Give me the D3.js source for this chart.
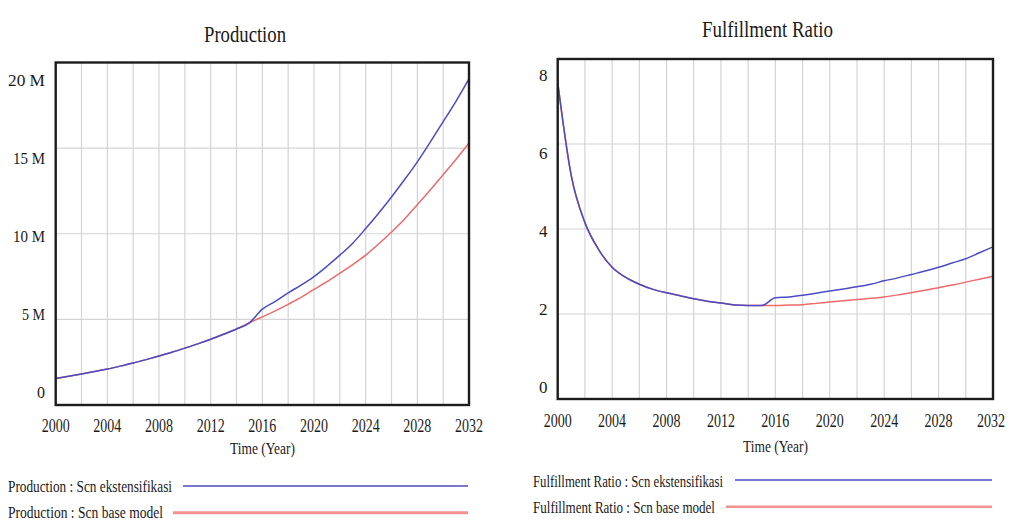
<!DOCTYPE html>
<html>
<head>
<meta charset="utf-8">
<script src="https://cdn.jsdelivr.net/npm/d3@7"></script>
<style>
  html, body { margin: 0; padding: 0; background: #fff; }
  svg { display: block; }
  text { font-family: "Liberation Serif", "Times New Roman", serif; fill: #1a1a1a; }
</style>
</head>
<body>
<svg id="chart" width="1012" height="525"></svg>
<script>
// Simulation years (annual output)
const years = [2000, 2001, 2002, 2003, 2004, 2005, 2006, 2007, 2008, 2009, 2010,
               2011, 2012, 2013, 2014, 2015, 2016, 2017, 2018, 2019, 2020, 2021,
               2022, 2023, 2024, 2025, 2026, 2027, 2028, 2029, 2030, 2031, 2032];

// Production (tons), scenario "ekstensifikasi"
const productionExt = [1.55e6, 1.68e6, 1.81e6, 1.95e6, 2.10e6, 2.27e6, 2.45e6, 2.65e6, 2.86e6, 3.08e6, 3.32e6,
                       3.57e6, 3.84e6, 4.13e6, 4.44e6, 4.80e6, 5.60e6, 6.05e6, 6.55e6, 7.00e6, 7.50e6, 8.10e6,
                       8.75e6, 9.45e6, 10.30e6, 11.20e6, 12.15e6, 13.15e6, 14.20e6, 15.35e6, 16.55e6, 17.75e6, 19.05e6];
// Production (tons), scenario "base model"
const productionBase = [1.55e6, 1.68e6, 1.81e6, 1.95e6, 2.10e6, 2.27e6, 2.45e6, 2.65e6, 2.86e6, 3.08e6, 3.32e6,
                        3.57e6, 3.84e6, 4.13e6, 4.44e6, 4.80e6, 5.15e6, 5.50e6, 5.88e6, 6.28e6, 6.75e6, 7.20e6,
                        7.70e6, 8.20e6, 8.75e6, 9.40e6, 10.10e6, 10.85e6, 11.70e6, 12.55e6, 13.45e6, 14.35e6, 15.30e6];

// Fulfillment ratio, scenario "ekstensifikasi"
const ratioExt = [7.45, 5.25, 4.15, 3.52, 3.10, 2.86, 2.70, 2.58, 2.50, 2.43, 2.36,
                  2.30, 2.26, 2.21, 2.20, 2.20, 2.38, 2.40, 2.44, 2.49, 2.54, 2.59,
                  2.64, 2.70, 2.78, 2.85, 2.93, 3.01, 3.10, 3.20, 3.30, 3.44, 3.58];
// Fulfillment ratio, scenario "base model"
const ratioBase = [7.45, 5.25, 4.15, 3.52, 3.10, 2.86, 2.70, 2.58, 2.50, 2.43, 2.36,
                   2.30, 2.26, 2.21, 2.20, 2.20, 2.20, 2.21, 2.22, 2.25, 2.28, 2.31,
                   2.34, 2.37, 2.40, 2.45, 2.50, 2.56, 2.62, 2.68, 2.75, 2.82, 2.89];

// Axis ticks and labels
const yearTicks = [2000, 2004, 2008, 2012, 2016, 2020, 2024, 2028, 2032];
const yearGrid = [2002, 2004, 2006, 2008, 2010, 2012, 2014, 2016, 2018, 2020, 2022, 2024, 2026, 2028, 2030];
const productionTicks = [0, 5e6, 10e6, 15e6, 20e6];
const productionTickLabels = ["0", "5 M", "10 M", "15 M", "20 M"];
const productionTickWidths = [8, 23, 32, 32, 37];
const ratioTicks = [0, 2, 4, 6, 8];
const ratioTickLabels = ["0", "2", "4", "6", "8"];

const BLUE = "#4b4bc4";
const RED = "#ee6a6a";
const RED_LEGEND = "#f29292";
const GRID = "#d4d4d4";

const svg = d3.select("#chart");

function drawPanel(cfg) {
  const g = svg.append("g");

  const x = d3.scaleLinear().domain([2000, 2032]).range([cfg.left, cfg.right]);
  const y = d3.scaleLinear().domain([0, cfg.max]).range([cfg.bottom, cfg.top]);
  // tick labels are spread a little inside the plot edges
  const yLab = d3.scaleLinear().domain([0, cfg.max]).range(cfg.labelRange);

  // grid
  g.selectAll("line.vgrid").data(yearGrid).join("line")
    .attr("x1", d => x(d)).attr("x2", d => x(d))
    .attr("y1", cfg.top).attr("y2", cfg.bottom)
    .attr("stroke", GRID).attr("stroke-width", 1.2);
  g.selectAll("line.hgrid").data(cfg.ticks.slice(1, -1)).join("line")
    .attr("x1", cfg.left).attr("x2", cfg.right)
    .attr("y1", d => y(d)).attr("y2", d => y(d))
    .attr("stroke", GRID).attr("stroke-width", 1.2);

  // series lines (base first, scenario on top)
  const line = d3.line()
    .x((d, i) => x(years[i]))
    .y(d => y(d))
    .curve(d3.curveMonotoneX);
  g.append("path").datum(cfg.base).attr("d", line)
    .attr("fill", "none").attr("stroke", RED).attr("stroke-width", 1.5);
  g.append("path").datum(cfg.ext).attr("d", line)
    .attr("fill", "none").attr("stroke", BLUE).attr("stroke-width", 1.5);

  // frame
  g.append("rect")
    .attr("x", cfg.left).attr("y", cfg.top)
    .attr("width", cfg.right - cfg.left).attr("height", cfg.bottom - cfg.top)
    .attr("fill", "none").attr("stroke", "#1c1c1c").attr("stroke-width", 2.4);

  // y tick labels
  g.selectAll("text.ytick").data(cfg.ticks).join("text")
    .attr("x", cfg.tickRight)
    .attr("y", d => yLab(d) + 6)
    .attr("text-anchor", "end")
    .attr("font-size", 17)
    .each(function (d, i) {
      const t = d3.select(this).text(cfg.tickLabels[i]);
      if (cfg.tickWidths) t.attr("textLength", cfg.tickWidths[i]).attr("lengthAdjust", "spacingAndGlyphs");
    });

  // x tick labels
  g.selectAll("text.xtick").data(yearTicks).join("text")
    .attr("x", d => x(d) - 14 - (d === 2032 ? cfg.lastShift : 0))
    .attr("y", cfg.xLabelY)
    .attr("font-size", 18)
    .attr("textLength", 28).attr("lengthAdjust", "spacingAndGlyphs")
    .text(d => d);

  // axis title
  g.append("text")
    .attr("x", cfg.axisTitle[0] - 32.5).attr("y", cfg.axisTitle[1])
    .attr("font-size", 17)
    .attr("textLength", 65).attr("lengthAdjust", "spacingAndGlyphs")
    .text("Time (Year)");

  // chart title
  g.append("text")
    .attr("x", cfg.title[0] - cfg.title[2] / 2).attr("y", cfg.title[1])
    .attr("font-size", 23)
    .attr("textLength", cfg.title[2]).attr("lengthAdjust", "spacingAndGlyphs")
    .text(cfg.name);

  // legend
  cfg.legend.forEach(item => {
    g.append("text")
      .attr("x", item.tx).attr("y", item.ty)
      .attr("font-size", 17)
      .attr("textLength", item.len).attr("lengthAdjust", "spacingAndGlyphs")
      .text(item.text);
    g.append("line")
      .attr("x1", item.lx0).attr("x2", item.lx1)
      .attr("y1", item.ly).attr("y2", item.ly)
      .attr("stroke", item.color).attr("stroke-width", item.width);
  });
}

drawPanel({
  name: "Production",
  ext: productionExt, base: productionBase,
  max: 20e6, ticks: productionTicks, tickLabels: productionTickLabels, tickWidths: productionTickWidths,
  left: 55.7, right: 469, top: 62.5, bottom: 405,
  labelRange: [392, 80], tickRight: 45, xLabelY: 431.5, lastShift: 0,
  axisTitle: [262.5, 454], title: [245, 41.5, 82],
  legend: [
    { text: "Production : Scn ekstensifikasi", tx: 8, ty: 491.5, len: 164, lx0: 183, lx1: 468, ly: 486, color: BLUE, width: 1.6 },
    { text: "Production : Scn base model", tx: 8, ty: 518, len: 155, lx0: 173, lx1: 468, ly: 512.7, color: RED_LEGEND, width: 3 }
  ]
});

drawPanel({
  name: "Fulfillment Ratio",
  ext: ratioExt, base: ratioBase,
  max: 8, ticks: ratioTicks, tickLabels: ratioTickLabels, tickWidths: null,
  left: 557.7, right: 993, top: 59, bottom: 399,
  labelRange: [387, 75], tickRight: 547.5, xLabelY: 426.5, lastShift: 2,
  axisTitle: [775.5, 451.5], title: [767.5, 37, 131],
  legend: [
    { text: "Fulfillment Ratio : Scn ekstensifikasi", tx: 533, ty: 486.5, len: 190, lx0: 735, lx1: 992, ly: 480, color: BLUE, width: 1.6 },
    { text: "Fulfillment Ratio : Scn base model", tx: 533, ty: 513, len: 182, lx0: 726, lx1: 992, ly: 506.7, color: RED_LEGEND, width: 2.4 }
  ]
});
</script>
</body>
</html>
